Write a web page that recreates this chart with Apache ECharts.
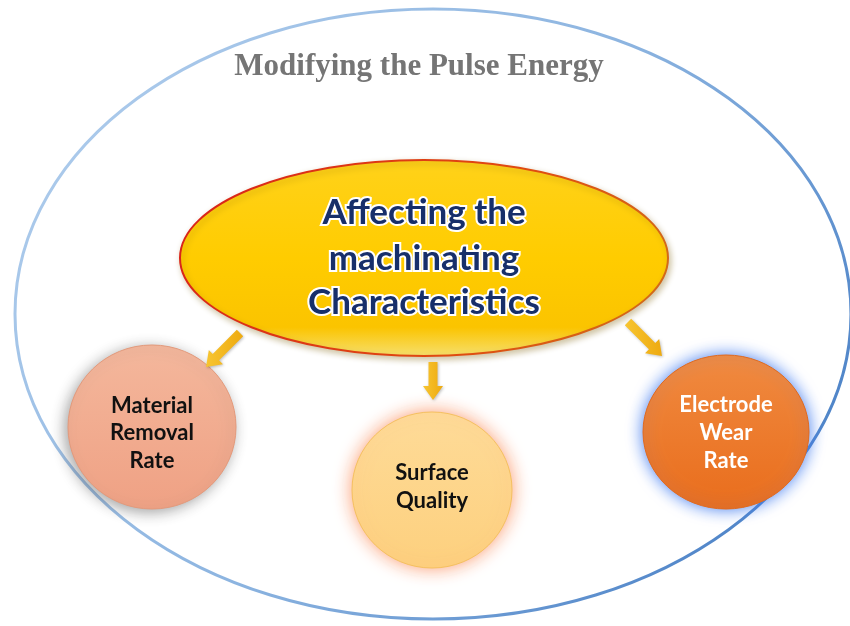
<!DOCTYPE html>
<html><head><meta charset="utf-8">
<script src="https://cdn.jsdelivr.net/npm/echarts@6/dist/echarts.min.js"></script>
<style>html,body{margin:0;padding:0;background:#fff}#c{width:850px;height:626px}</style>
</head><body><div id="c"></div>
<script>
const titleText = 'Modifying the Pulse Energy';
const centerLines = ['Affecting the', 'machinating', 'Characteristics'];
const nodeLabels = [['Material', 'Removal', 'Rate'], ['Surface', 'Quality'], ['Electrode', 'Wear', 'Rate']];
const nodeFillTop = ['#f4b79c', '#fedb98', '#f08a40'];
const nodeFillBottom = ['#efa184', '#fdd07e', '#e96d1c'];
const nodeGlow = ['rgba(90,90,90,0.55)', 'rgba(250,140,90,0.85)', 'rgba(60,120,240,0.95)'];
const nodeTextColor = ['#111', '#111', '#fff'];

const chart = echarts.init(document.getElementById('c'), null, {renderer: 'canvas'});

const nodes = [
  {cx: 152, cy: 427, rx: 84, ry: 82, glow: 14, ox: -3, oy: 3, ty: [406, 433, 461]},
  {cx: 432, cy: 490, rx: 80, ry: 78, glow: 18, ox: 0, oy: 0, ty: [473, 501]},
  {cx: 726, cy: 432, rx: 83, ry: 77, glow: 16, ox: 0, oy: 0, ty: [405, 433, 461]}
];
const arrows = [
  {x1: 240, y1: 333, x2: 206, y2: 367},
  {x1: 433, y1: 362, x2: 433, y2: 400},
  {x1: 628, y1: 322, x2: 662, y2: 356}
];

function arrowPoly(a) {
  const dx = a.x2 - a.x1, dy = a.y2 - a.y1;
  const L = Math.sqrt(dx * dx + dy * dy);
  const ux = dx / L, uy = dy / L, px = -uy, py = ux;
  const sw = 4.5, hw = 10, hl = 14;
  const bx = a.x2 - ux * hl, by = a.y2 - uy * hl;
  const P = (x, y, s) => [x + px * s, y + py * s];
  return [P(a.x1, a.y1, sw), P(bx, by, sw), P(bx, by, hw), [a.x2, a.y2], P(bx, by, -hw), P(bx, by, -sw), P(a.x1, a.y1, -sw)];
}

const elements = [];
elements.push({
  type: 'ellipse', shape: {cx: 433, cy: 314, rx: 418, ry: 305},
  style: {
    fill: '#fff', lineWidth: 3,
    stroke: {type: 'linear', x: 0, y: 0, x2: 1, y2: 1, colorStops: [
      {offset: 0, color: '#b4d0ee'}, {offset: 0.5, color: '#8cb4e0'}, {offset: 1, color: '#3a74c0'}]}
  }, z: 1
});
elements.push({
  type: 'text', x: 419, y: 67,
  style: {text: titleText, fill: '#757575', font: 'bold 31px "Liberation Serif", "Times New Roman", serif', align: 'center', verticalAlign: 'middle'},
  z: 5
});
elements.push({
  type: 'ellipse', shape: {cx: 424, cy: 258, rx: 244, ry: 98},
  style: {
    fill: {type: 'linear', x: 0, y: 0, x2: 0, y2: 1, colorStops: [
      {offset: 0, color: '#ffd21a'}, {offset: 0.5, color: '#ffcc00'}, {offset: 0.85, color: '#fbc400'}, {offset: 1, color: '#f6e070'}]},
    stroke: {type: 'linear', x: 0, y: 0, x2: 1, y2: 1, colorStops: [
      {offset: 0, color: '#d9201a'}, {offset: 0.6, color: '#e04a10'}, {offset: 1, color: '#d0701a'}]},
    lineWidth: 2,
    shadowBlur: 6, shadowColor: 'rgba(120,90,0,0.35)', shadowOffsetX: 2, shadowOffsetY: 3
  }, z: 3
});
const centerY = [213, 259, 303];
centerLines.forEach((t, i) => {
  elements.push({
    type: 'text', x: 424, y: centerY[i],
    style: {text: t, fill: '#172f6a', stroke: '#ffffff', lineWidth: 4, strokeFirst: true,
      font: 'bold 35px Lato, "Open Sans", sans-serif', align: 'center', verticalAlign: 'middle',
      shadowBlur: 2, shadowColor: 'rgba(0,0,0,0.45)', shadowOffsetX: 1, shadowOffsetY: 2},
    z: 6
  });
});
arrows.forEach(a => {
  elements.push({
    type: 'polygon', shape: {points: arrowPoly(a)},
    style: {
      fill: {type: 'linear', x: 0, y: 0, x2: 1, y2: 0, colorStops: [{offset: 0, color: '#f7c531'}, {offset: 1, color: '#eeaa10'}]},
      shadowBlur: 3, shadowColor: 'rgba(0,0,0,0.25)', shadowOffsetX: 1, shadowOffsetY: 1
    }, z: 4
  });
});
nodes.forEach((n, i) => {
  elements.push({
    type: 'ellipse', shape: {cx: n.cx, cy: n.cy, rx: n.rx, ry: n.ry},
    style: {
      fill: {type: 'linear', x: 0, y: 0, x2: 0, y2: 1, colorStops: [{offset: 0, color: nodeFillTop[i]}, {offset: 1, color: nodeFillBottom[i]}]},
      stroke: i === 0 ? '#e39a7c' : (i === 1 ? '#f5c060' : '#e06a20'), lineWidth: 1,
      shadowBlur: n.glow, shadowColor: nodeGlow[i], shadowOffsetX: n.ox, shadowOffsetY: n.oy
    }, z: 3
  });
  nodeLabels[i].forEach((t, j) => {
    elements.push({
      type: 'text', x: n.cx, y: n.ty[j],
      style: {text: t, fill: nodeTextColor[i], font: 'bold 22px Lato, "Open Sans", sans-serif', align: 'center', verticalAlign: 'middle'},
      z: 6
    });
  });
});

chart.setOption({backgroundColor: '#ffffff', animation: false, graphic: {elements: elements}});
</script>
</body></html>
